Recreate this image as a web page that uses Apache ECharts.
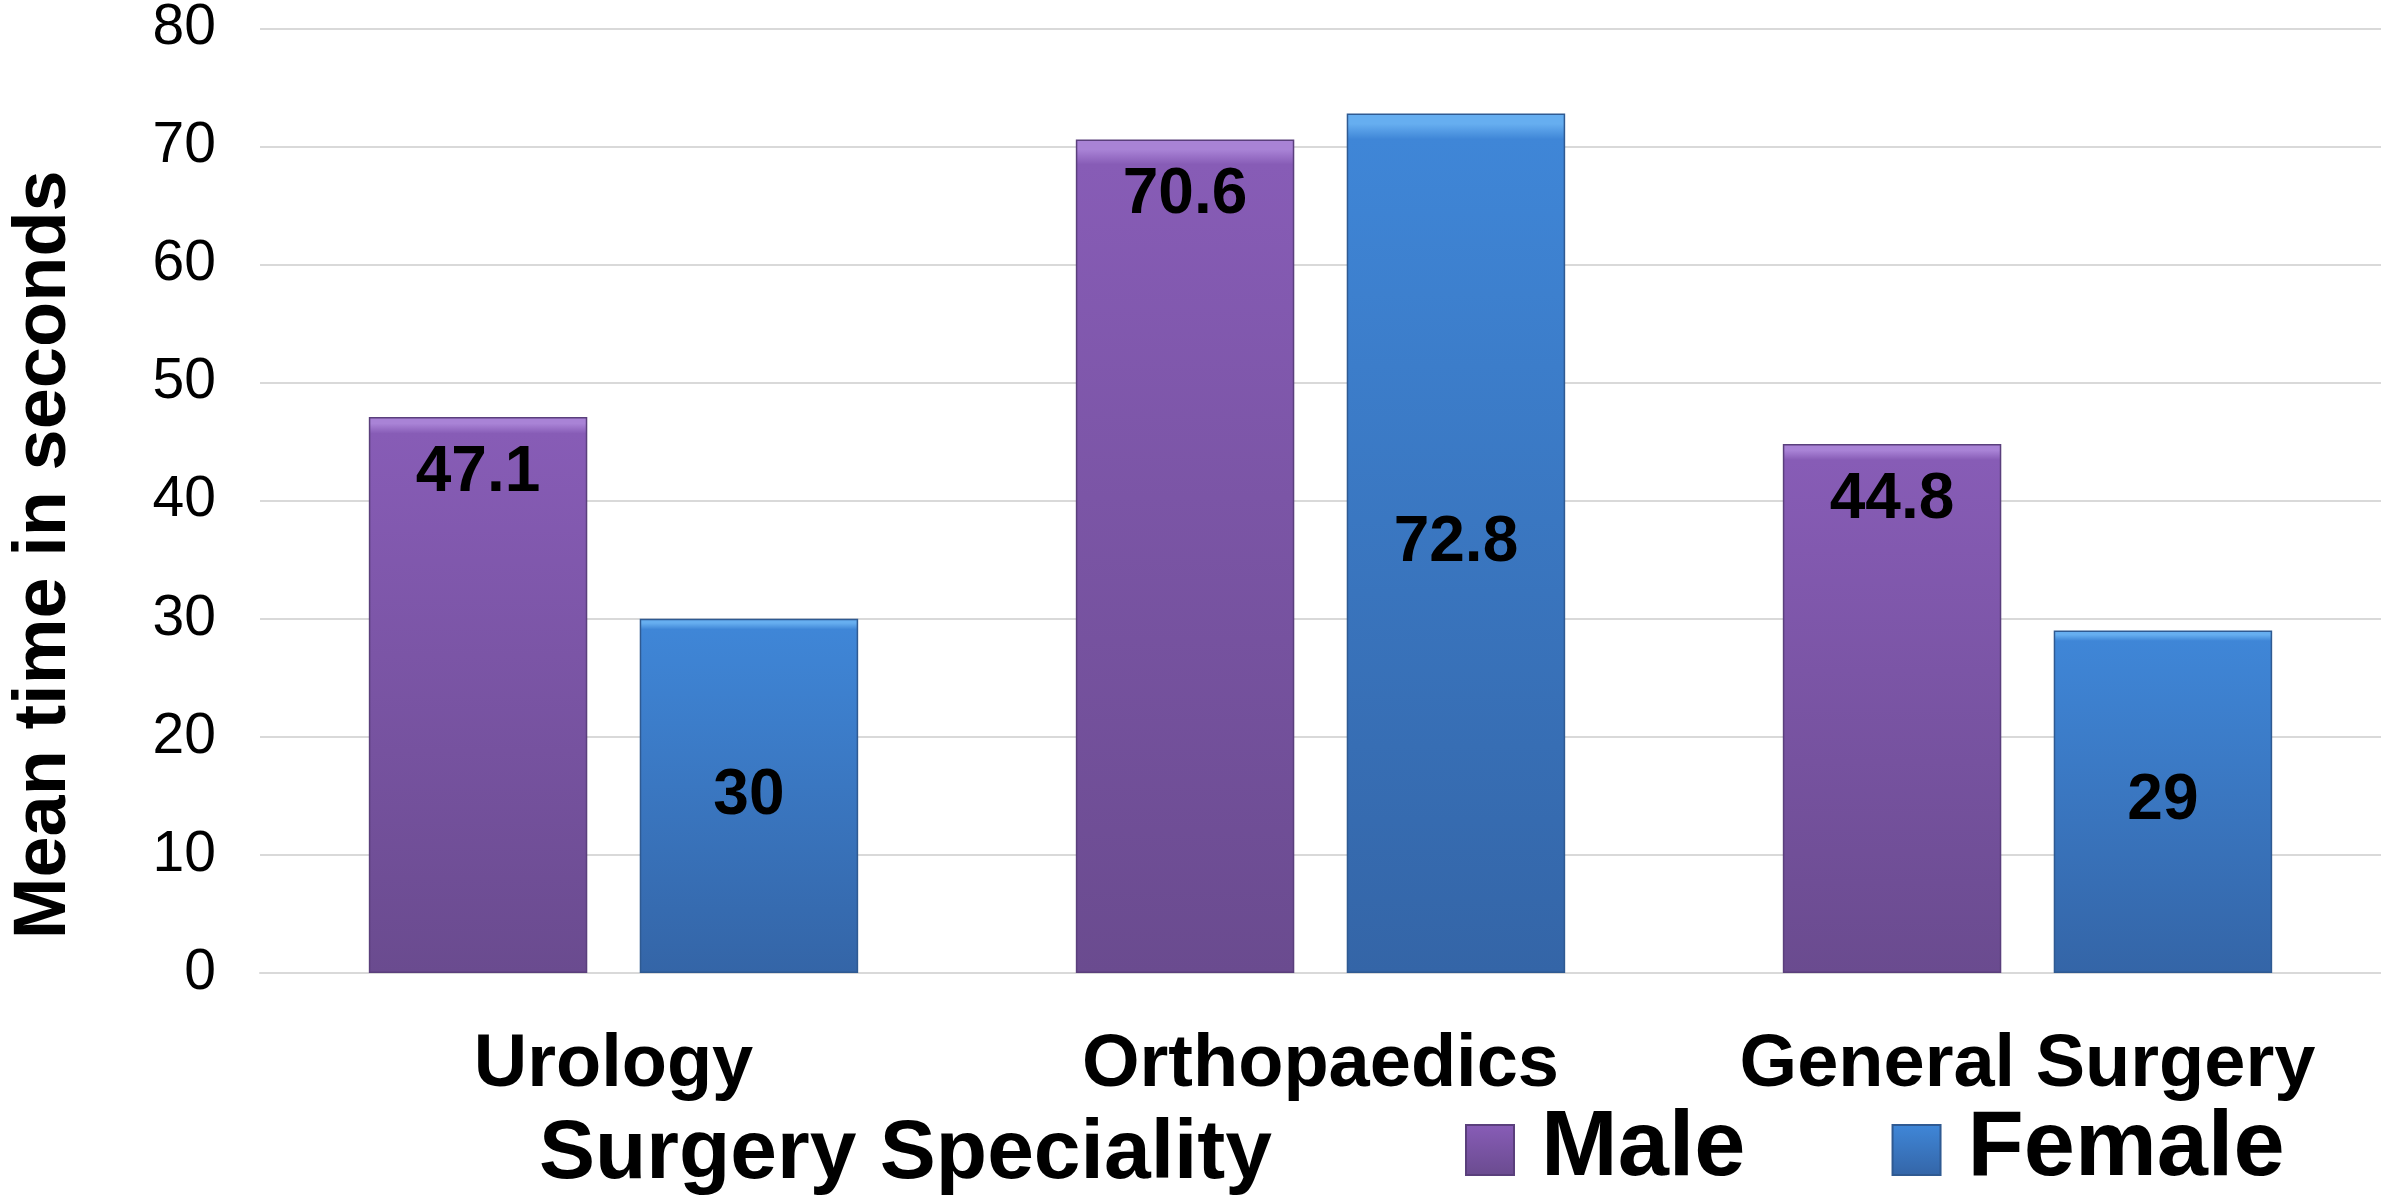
<!DOCTYPE html>
<html>
<head>
<meta charset="utf-8">
<title>Mean time by surgery speciality</title>
<script src="https://cdn.jsdelivr.net/npm/echarts@6/dist/echarts.min.js"></script>
<style>
  html, body { margin: 0; padding: 0; background: #fff; }
  #chart { width: 2381px; height: 1196px; }
</style>
</head>
<body>
<div id="chart"></div>
<script>
// data
var categories = ['Urology', 'Orthopaedics', 'General Surgery']
var maleValues = [47.1, 70.6, 44.8]
var femaleValues = [30, 72.8, 29]
var seriesNames = ['Male', 'Female']
var yTicks = [0, 10, 20, 30, 40, 50, 60, 70, 80]

var FONT = '"Liberation Sans", Arial, sans-serif'

// vertical fill with a thin lighter rim at the top, like the bevelled bars
function barFill(rim, top, bottom) {
  return new echarts.graphic.LinearGradient(0, 0, 0, 1, [
    { offset: 0, color: rim },
    { offset: 0.012, color: rim },
    { offset: 0.03, color: top },
    { offset: 1, color: bottom }
  ])
}

var chart = echarts.init(document.getElementById('chart'))

chart.setOption({
  animation: false,
  backgroundColor: '#ffffff',
  textStyle: { fontFamily: FONT },
  title: {
    text: 'Surgery Speciality',
    left: 539,
    top: 1113,
    padding: 0,
    textStyle: {
      fontFamily: FONT,
      fontSize: 84,
      fontWeight: 'bold',
      color: '#000'
    }
  },
  legend: {
    data: seriesNames,
    left: 1465,
    top: 1104,
    padding: 0,
    itemWidth: 48,
    itemHeight: 50,
    itemGap: 146,
    icon: 'rect',
    textStyle: {
      fontFamily: FONT,
      fontSize: 92,
      fontWeight: 'bold',
      color: '#000',
      padding: [0, 0, 0, 22]
    }
  },
  grid: {
    left: 254,
    right: 0,
    top: 23,
    bottom: 223,
    containLabel: false
  },
  xAxis: {
    type: 'category',
    data: categories,
    axisTick: { show: false },
    axisLine: { lineStyle: { color: '#d9d9d9', width: 2 } },
    axisLabel: {
      interval: 0,
      margin: 56,
      fontFamily: FONT,
      fontSize: 74,
      fontWeight: 'bold',
      color: '#000'
    }
  },
  yAxis: {
    type: 'value',
    min: yTicks[0],
    max: yTicks[yTicks.length - 1],
    interval: 10,
    name: 'Mean time in seconds',
    nameLocation: 'middle',
    nameRotate: 90,
    nameGap: 178,
    nameTextStyle: {
      fontFamily: FONT,
      fontSize: 74,
      fontWeight: 'bold',
      color: '#000',
      padding: [0, 108, 0, 0]
    },
    axisLine: { show: false },
    axisTick: { show: false },
    axisLabel: {
      margin: 44,
      fontFamily: FONT,
      fontSize: 57,
      color: '#000'
    },
    splitLine: { lineStyle: { color: '#d9d9d9', width: 2 } }
  },
  series: [
    {
      name: seriesNames[0],
      type: 'bar',
      data: maleValues,
      barWidth: '30.9%',
      barGap: '24%',
      itemStyle: {
        color: barFill('#a983d6', '#875cb6', '#6a4b8f'),
        borderColor: '#5a3f7c',
        borderWidth: 1.5
      },
      label: {
        show: true,
        position: 'insideTop',
        distance: 24,
        fontFamily: FONT,
        fontSize: 64,
        fontWeight: 'bold',
        color: '#000'
      }
    },
    {
      name: seriesNames[1],
      type: 'bar',
      data: femaleValues,
      barWidth: '30.9%',
      itemStyle: {
        color: barFill('#66aef0', '#3f86d7', '#3465a7'),
        borderColor: '#2f5a92',
        borderWidth: 1.5
      },
      label: {
        show: true,
        position: 'inside',
        fontFamily: FONT,
        fontSize: 64,
        fontWeight: 'bold',
        color: '#000'
      }
    }
  ]
})
</script>
</body>
</html>
